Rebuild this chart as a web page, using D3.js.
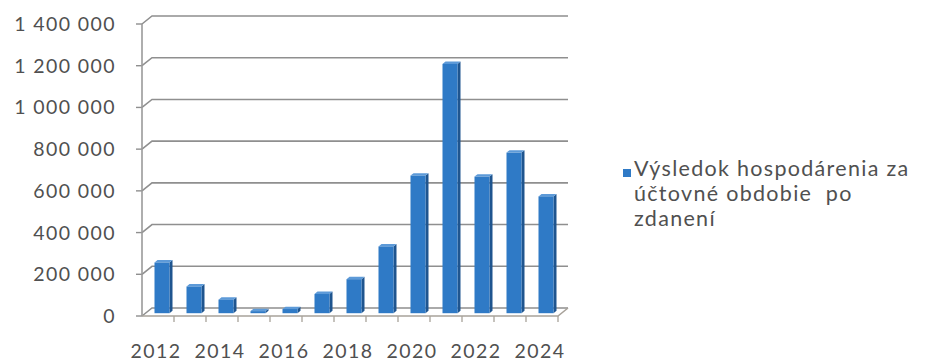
<html>
<meta charset="utf-8" />
<head>
<title>Výsledok hospodárenia</title>
<script src="https://cdn.jsdelivr.net/npm/d3@7"></script>
<style>
	body { margin: 0; background: #fff; }
	text { font-family: Lato, "Open Sans", sans-serif; fill: #505050; white-space: pre; }
</style>
<script>
// data
const years = ['2012','2013','2014','2015','2016','2017','2018','2019','2020','2021','2022','2023','2024'];
const profit = [243000, 128000, 65000, 10000, 20000, 92000, 163000, 320000, 660000, 1195000, 655000, 770000, 560000];
const yTicks = [0, 200000, 400000, 600000, 800000, 1000000, 1200000, 1400000];
const xLabels = ['2012','2014','2016','2018','2020','2022','2024'];
const seriesName = ['Výsledok hospodárenia za', 'účtovné obdobie  po', 'zdanení'];

window.onload = function() {
	const svg = d3.select('svg');

	// 3d offset between the front edge and the back wall
	const dx = 10, dy = 8;

	const yBack = d3.scaleLinear().domain([0, 1400000]).range([308, 16]);
	const x = d3.scaleBand().domain(years).range([142, 558]);

	const fmt = v => d3.format(',')(v).replace(/,/g, ' ');

	// gridlines: short diagonal on the side wall, then along the back wall
	svg.selectAll('path.grid')
		.data(yTicks)
		.enter()
		.append('path')
		.attr('class', 'grid')
		.attr('d', d => `M142,${yBack(d) + dy}L${142 + dx},${yBack(d)}L${558 + dx},${yBack(d)}`)
		.style('fill', 'none')
		.style('stroke', '#8f8f8f')
		.style('stroke-width', 1.6);

	// y ticks
	svg.selectAll('line.ytick')
		.data(yTicks)
		.enter()
		.append('line')
		.attr('x1', 136).attr('x2', 142)
		.attr('y1', d => yBack(d) + dy).attr('y2', d => yBack(d) + dy)
		.style('stroke', '#8f8f8f')
		.style('stroke-width', 1.4);

	svg.selectAll('text.ylab')
		.data(yTicks)
		.enter()
		.append('text')
		.attr('class', 'ylab')
		.attr('x', 116)
		.attr('y', d => yBack(d) + dy)
		.attr('dy', '0.36em')
		.attr('text-anchor', 'end')
		.style('font-size', '19.5px')
		.style('letter-spacing', '1.4px')
		.text(fmt);

	// left axis line and floor
	const floorY = yBack(0) + dy;
	svg.append('line')
		.attr('x1', 142).attr('x2', 142)
		.attr('y1', yBack(1400000) + dy).attr('y2', floorY)
		.style('stroke', '#9a9a9a').style('stroke-width', 1.6);
	svg.append('path')
		.attr('d', `M142,${floorY}L558,${floorY}L${558 + dx},${yBack(0)}`)
		.style('fill', 'none')
		.style('stroke', '#a8a29a').style('stroke-width', 1.6);

	// category ticks on the front edge
	svg.selectAll('line.xtick')
		.data(years.slice(1).concat(['end']))
		.enter()
		.append('line')
		.attr('x1', (d, i) => x(years[0]) + (i + 1) * x.bandwidth())
		.attr('x2', (d, i) => x(years[0]) + (i + 1) * x.bandwidth())
		.attr('y1', floorY).attr('y2', floorY + 6)
		.style('stroke', '#a8a29a').style('stroke-width', 1.3);

	svg.selectAll('text.xlab')
		.data(xLabels)
		.enter()
		.append('text')
		.attr('x', d => x(d) + x.bandwidth() / 2 - 2)
		.attr('y', 358)
		.attr('text-anchor', 'middle')
		.style('font-size', '19.5px')
		.style('letter-spacing', '1.4px')
		.text(d => d);

	// bars: front face, right side and top, set in the middle of the depth
	const f1 = 0.35, f2 = 0.65, bw = 15;
	const bars = svg.selectAll('g.bar')
		.data(years.map((y, i) => ({ year: y, value: profit[i] })))
		.enter()
		.append('g');

	const x0 = d => x(d.year) + x.bandwidth() / 2 - bw / 2 + f1 * dx + 0.5;
	const yb = d => yBack(d.value);
	const front = f => dy * (1 - f);

	bars.append('path')
		.attr('d', d => {
			const a = x0(d), t1 = yb(d) + front(f1), t2 = yb(d) + front(f2), b1 = yBack(0) + front(f1), b2 = yBack(0) + front(f2);
			const s = (f2 - f1) * dx;
			return `M${a + bw},${t1}L${a + bw + s},${t2}L${a + bw + s},${b2}L${a + bw},${b1}Z`;
		})
		.style('fill', '#1f558f');

	bars.append('path')
		.attr('d', d => {
			const a = x0(d), t1 = yb(d) + front(f1), t2 = yb(d) + front(f2);
			const s = (f2 - f1) * dx;
			return `M${a},${t1}L${a + s},${t2}L${a + bw + s},${t2}L${a + bw},${t1}Z`;
		})
		.style('fill', '#5d9ad8');

	bars.append('rect')
		.attr('x', x0)
		.attr('y', d => yb(d) + front(f1))
		.attr('width', bw)
		.attr('height', d => yBack(0) - yb(d))
		.style('fill', '#2f7ac6');

	// legend
	svg.append('rect')
		.attr('x', 623).attr('y', 169)
		.attr('width', 8).attr('height', 8)
		.style('fill', '#2f7ac6');

	svg.selectAll('text.leg')
		.data(seriesName)
		.enter()
		.append('text')
		.attr('x', 634)
		.attr('y', (d, i) => 176 + i * 25)
		.style('font-size', '21.5px')
		.style('letter-spacing', '1.3px')
		.text(d => d);
}
</script>
</head>
<body>
	<svg width="931" height="363"></svg>
</body>
</html>
